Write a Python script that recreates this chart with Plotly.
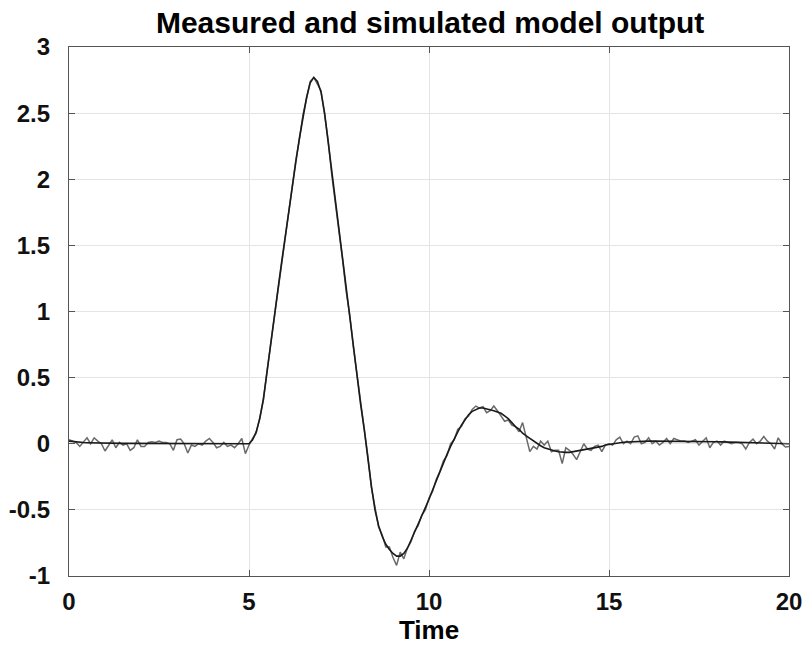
import plotly.graph_objects as go

time = [round(i * 0.1, 1) for i in range(201)]

measured = [
    0.03, 0.02, 0.01, -0.02, 0.01, 0.045, 0.00, 0.045, 0.02, 0.00,
    -0.055, -0.01, 0.03, -0.03, 0.01, -0.01, 0.00, -0.05, -0.03, 0.03,
    -0.02, -0.02, 0.01, 0.015, 0.01, 0.02, 0.01, 0.01, 0.00, -0.05,
    0.03, 0.035, 0.00, -0.07, -0.01, -0.02, 0.00, -0.01, 0.02, 0.04,
    0.01, -0.03, -0.02, 0.01, -0.02, -0.01, -0.03, 0.00, 0.04, -0.075,
    -0.01, 0.04, 0.08, 0.20, 0.33, 0.55, 0.75, 0.97, 1.15, 1.37,
    1.55, 1.77, 1.94, 2.14, 2.30, 2.49, 2.61, 2.74, 2.77, 2.72,
    2.67, 2.49, 2.29, 2.03, 1.83, 1.59, 1.39, 1.15, 0.97, 0.73,
    0.53, 0.29, 0.11, -0.09, -0.33, -0.49, -0.63, -0.69, -0.78, -0.78,
    -0.86, -0.92, -0.82, -0.87, -0.79, -0.74, -0.66, -0.62, -0.54, -0.50,
    -0.41, -0.36, -0.27, -0.21, -0.13, -0.09, 0.00, 0.03, 0.11, 0.13,
    0.19, 0.21, 0.26, 0.285, 0.27, 0.28, 0.235, 0.25, 0.285, 0.25,
    0.21, 0.17, 0.18, 0.14, 0.13, 0.09, 0.16, 0.05, -0.06, -0.02,
    -0.04, 0.02, -0.01, 0.02, -0.06, -0.05, -0.05, -0.15, -0.03, -0.05,
    -0.08, -0.12, -0.06, 0.00, -0.04, -0.05, -0.02, -0.01, -0.06, -0.01,
    0.00, -0.01, 0.03, 0.05, 0.00, 0.02, 0.00, 0.05, 0.06, 0.00,
    0.01, 0.045, 0.00, 0.02, -0.01, 0.01, 0.04, 0.00, 0.04, 0.03,
    0.02, 0.02, 0.01, 0.02, 0.03, -0.01, 0.02, 0.045, -0.03, 0.01,
    0.02, -0.01, 0.02, 0.01, 0.00, 0.01, 0.01, 0.00, -0.04, 0.01,
    0.035, 0.00, 0.02, 0.055, 0.02, 0.00, -0.04, 0.045, 0.00, -0.025,
    -0.02,
]

simulated = [
    0.02, 0.016, 0.013, 0.011, 0.009, 0.008, 0.007, 0.006, 0.005, 0.005,
    0.004, 0.004, 0.004, 0.003, 0.003, 0.003, 0.003, 0.003, 0.002, 0.002,
    0.002, 0.002, 0.002, 0.002, 0.002, 0.002, 0.002, 0.002, 0.002, 0.002,
    0.002, 0.002, 0.002, 0.002, 0.002, 0.002, 0.002, 0.002, 0.002, 0.002,
    0.002, 0.002, 0.002, 0.002, 0.002, 0.002, 0.002, 0.002, 0.002, 0.002,
    0.00, 0.03, 0.09, 0.19, 0.34, 0.54, 0.76, 0.96, 1.16, 1.36,
    1.56, 1.76, 1.95, 2.13, 2.31, 2.48, 2.62, 2.73, 2.77, 2.74,
    2.66, 2.50, 2.28, 2.04, 1.82, 1.60, 1.38, 1.16, 0.96, 0.74,
    0.52, 0.30, 0.11, -0.11, -0.32, -0.50, -0.62, -0.70, -0.76, -0.80,
    -0.83, -0.85, -0.85, -0.83, -0.79, -0.73, -0.67, -0.61, -0.55, -0.49,
    -0.42, -0.35, -0.28, -0.21, -0.15, -0.08, -0.02, 0.04, 0.09, 0.14,
    0.18, 0.22, 0.245, 0.26, 0.27, 0.27, 0.265, 0.26, 0.25, 0.24,
    0.23, 0.21, 0.19, 0.16, 0.13, 0.11, 0.08, 0.06, 0.04, 0.02,
    0.00, -0.015, -0.03, -0.04, -0.05, -0.055, -0.06, -0.065, -0.065, -0.065,
    -0.06, -0.06, -0.055, -0.05, -0.045, -0.04, -0.03, -0.025, -0.02, -0.01,
    -0.005, 0.00, 0.005, 0.008, 0.011, 0.013, 0.015, 0.017, 0.018, 0.019,
    0.02, 0.02, 0.02, 0.02, 0.02, 0.02, 0.02, 0.02, 0.02, 0.02,
    0.02, 0.019, 0.019, 0.018, 0.018, 0.017, 0.017, 0.016, 0.016, 0.015,
    0.015, 0.014, 0.013, 0.012, 0.011, 0.010, 0.009, 0.008, 0.007, 0.006,
    0.005, 0.005, 0.004, 0.004, 0.003, 0.003, 0.002, 0.002, 0.001, 0.001,
    0.00,
]

x_ticks = [0, 5, 10, 15, 20]
x_tick_labels = ["0", "5", "10", "15", "20"]
y_ticks = [-1, -0.5, 0, 0.5, 1, 1.5, 2, 2.5, 3]
y_tick_labels = ["-1", "-0.5", "0", "0.5", "1", "1.5", "2", "2.5", "3"]

title_text = "Measured and simulated model output"
x_label = "Time"

FAMILY = "Liberation Sans, Arial, sans-serif"
font_bold = dict(family=FAMILY, size=24, color="#111111", weight="bold")

fig = go.Figure()
fig.add_trace(go.Scatter(x=time, y=measured, mode="lines",
                         line=dict(color="#6a6a6a", width=1.5), name="measured"))
fig.add_trace(go.Scatter(x=time, y=simulated, mode="lines",
                         line=dict(color="#1a1a1a", width=1.6), name="simulated"))

axis_common = dict(showline=True, linecolor="#555555", linewidth=1.2, mirror="ticks",
                   ticks="inside", ticklen=6, tickcolor="#555555", tickwidth=1,
                   showgrid=True, gridcolor="#e4e4e4", gridwidth=1, zeroline=False,
                   tickfont=font_bold, automargin=False)

fig.update_layout(
    width=804, height=646,
    margin=dict(l=69, r=15, t=47, b=70, autoexpand=False),
    paper_bgcolor="white", plot_bgcolor="white",
    showlegend=False,
    title=dict(text=title_text, x=0.535, xanchor="center", y=0.965, yanchor="middle",
               font=dict(family=FAMILY, size=30, color="#000000", weight="bold")),
    xaxis=dict(range=[0, 20], tickvals=x_ticks, ticktext=x_tick_labels,
               ticklabelstandoff=4,
               title=dict(text=x_label, standoff=4,
                          font=dict(family=FAMILY, size=26, color="#000000", weight="bold")),
               **axis_common),
    yaxis=dict(range=[-1, 3], tickvals=y_ticks, ticktext=y_tick_labels,
               ticklabelstandoff=13, **axis_common),
)

fig.write_html("out.html",
               config={"displayModeBar": False},
               post_script="document.body.style.margin='0';document.body.style.overflow='hidden';")
